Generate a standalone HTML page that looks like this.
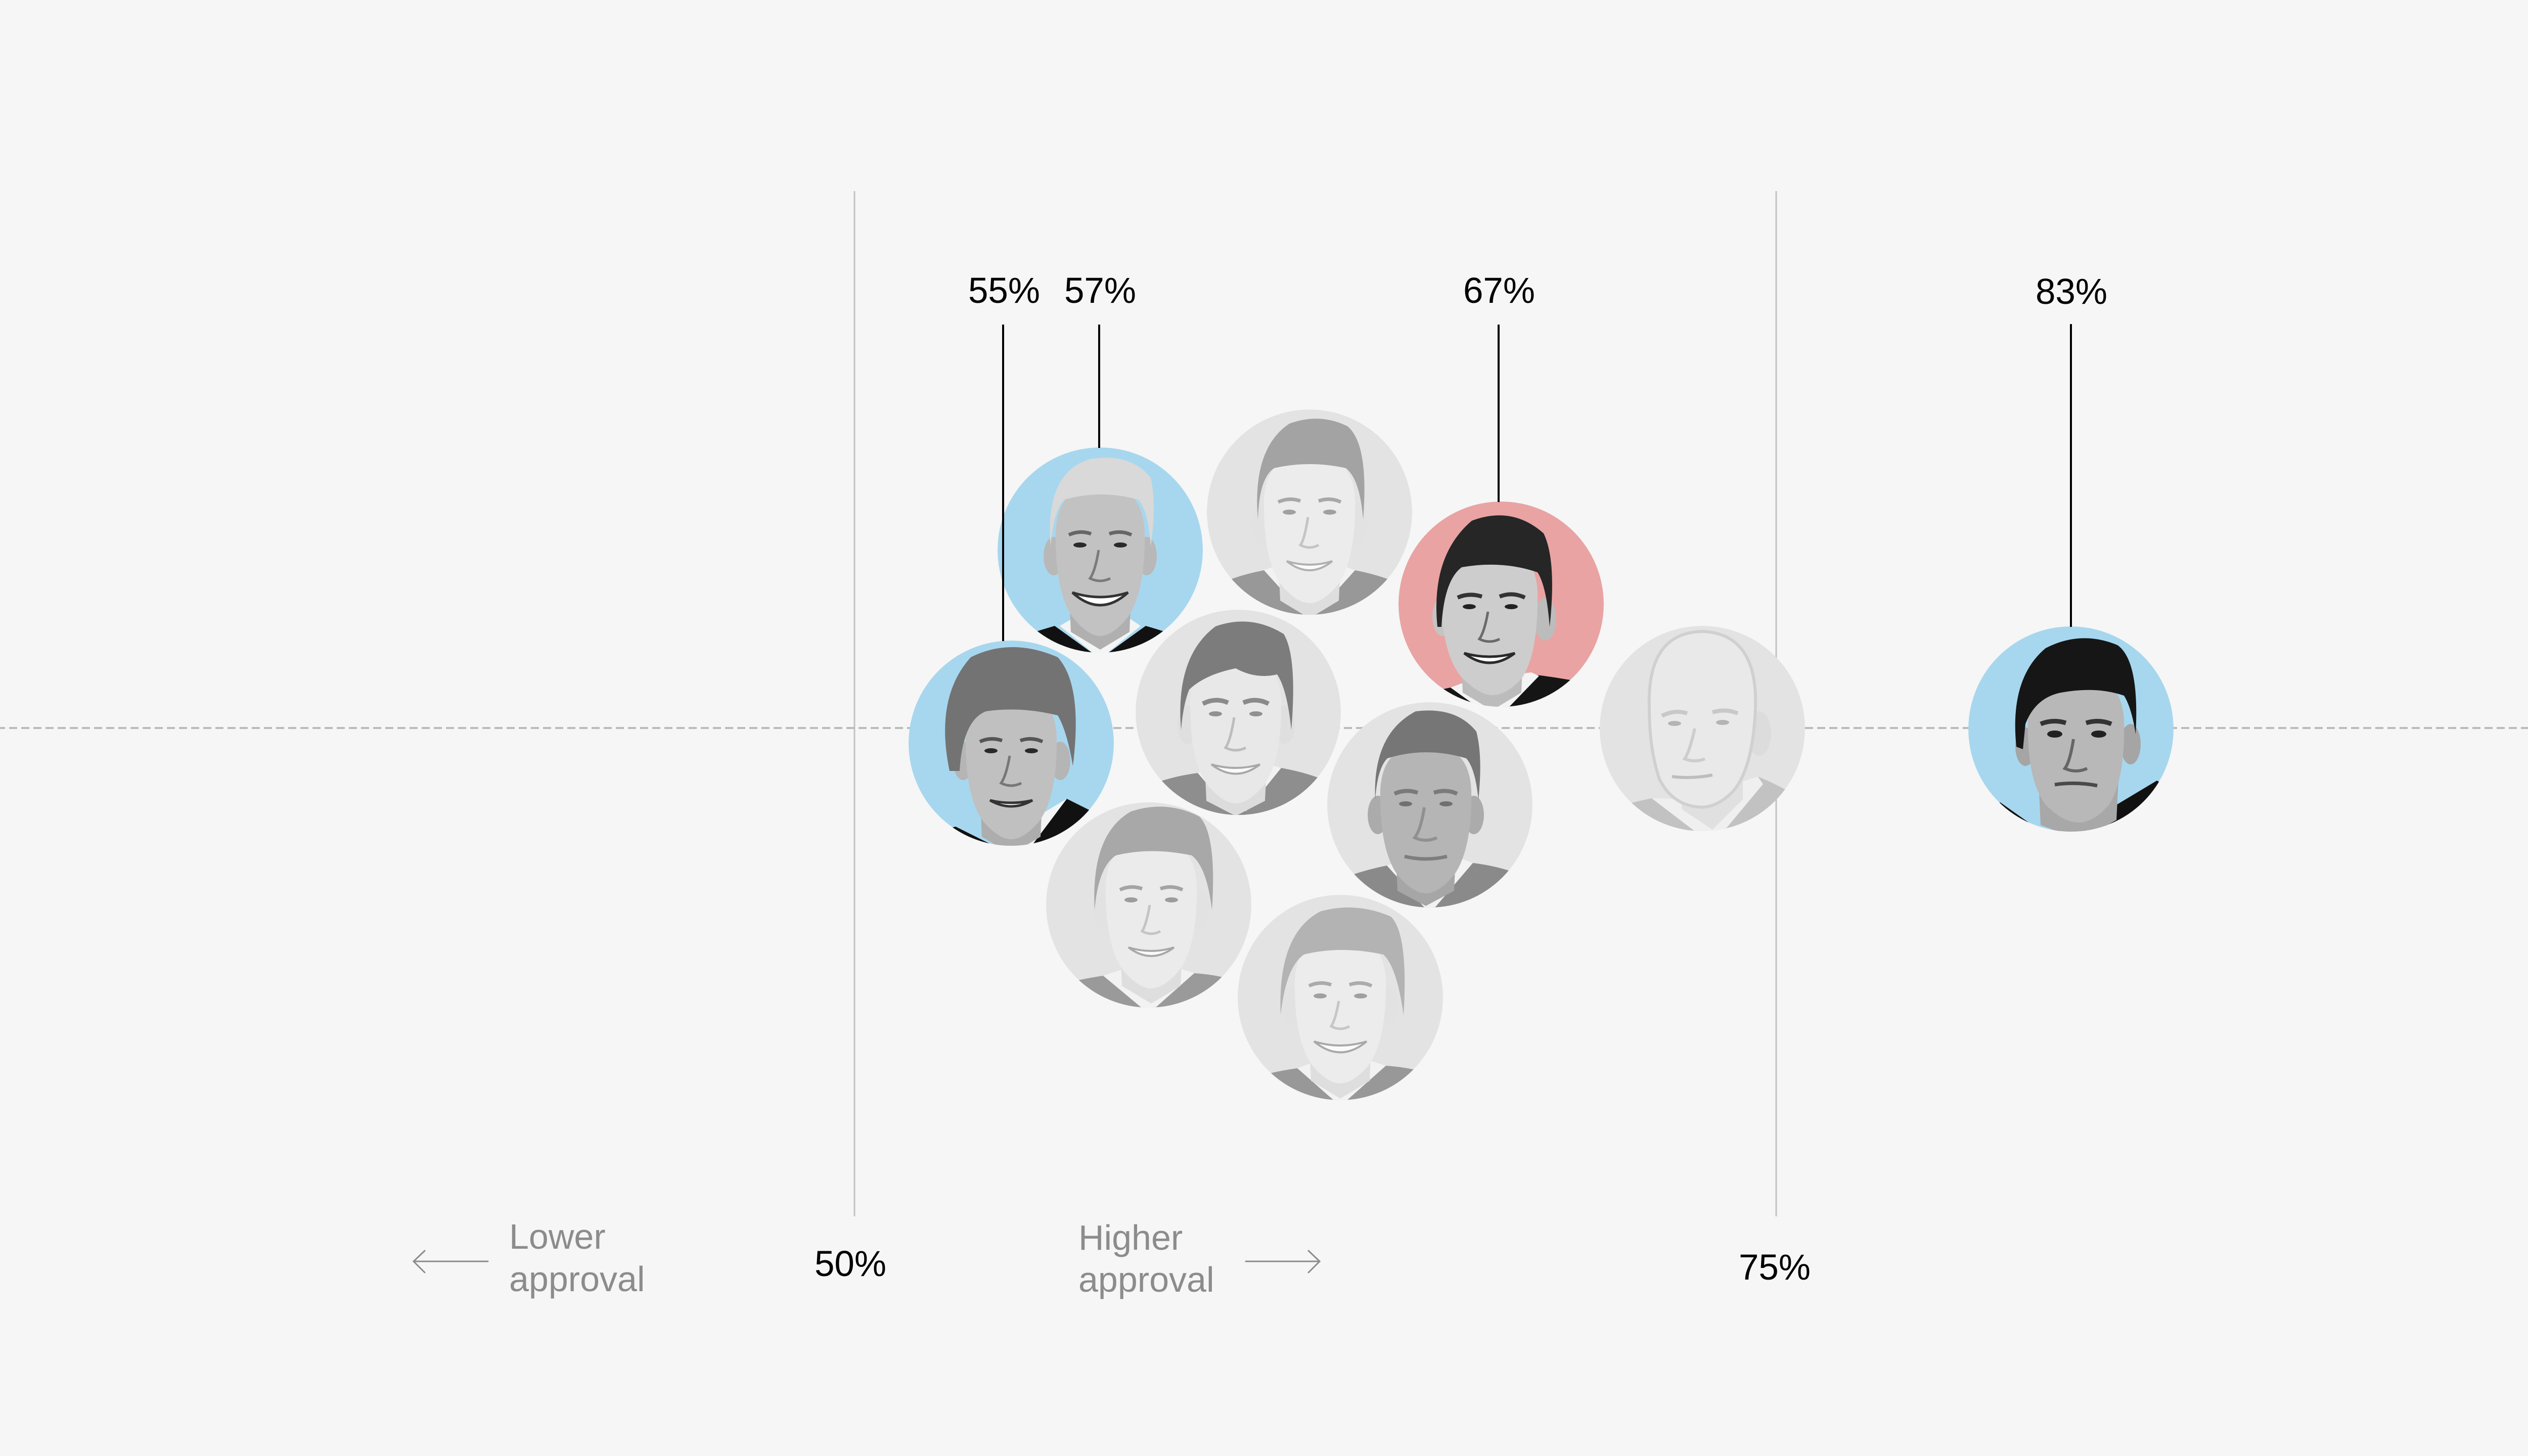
<!DOCTYPE html>
<html>
<head>
<meta charset="utf-8">
<style>
html,body{margin:0;padding:0;background:#f6f6f6;}
svg{display:block;}
text{font-family:"Liberation Sans",sans-serif;}
</style>
</head>
<body>
<svg width="5120" height="2880" viewBox="0 0 5120 2880" xmlns="http://www.w3.org/2000/svg">
<defs>
  <clipPath id="cc"><circle cx="0" cy="0" r="203"/></clipPath>
</defs>
<rect width="5120" height="2880" fill="#f6f6f6"/>

<!-- grid lines -->
<line x1="1690" y1="378" x2="1690" y2="2406" stroke="#c2c2c2" stroke-width="3"/>
<line x1="3513" y1="378" x2="3513" y2="2406" stroke="#c2c2c2" stroke-width="3"/>
<line x1="0" y1="1440" x2="5120" y2="1440" stroke="#bbbbbb" stroke-width="4" stroke-dasharray="16 8" stroke-dashoffset="6"/>

<!-- ===== Bush Jr (gray) ===== -->
<g transform="translate(2590,1013)" clip-path="url(#cc)">
  <circle r="203" fill="#e3e3e3"/>
  <path d="M-230,240 L-230,170 Q-170,130 -90,115 L0,200 L90,115 Q170,130 230,170 L230,240Z" fill="#989898"/>
  <path d="M-90,115 L-50,100 L50,100 L90,115 L0,215Z" fill="#f2f2f2"/>
  <g transform="translate(0,25)">
    <path d="M-62,60 L-58,150 L0,185 L58,150 L62,60Z" fill="#dedede"/>
    <ellipse cx="-95" cy="0" rx="20" ry="38" fill="#e2e2e2"/>
    <ellipse cx="95" cy="0" rx="20" ry="38" fill="#e2e2e2"/>
    <path d="M-90,-50 Q-92,70 -55,120 Q-25,155 0,155 Q25,155 55,120 Q92,70 90,-50 Q85,-140 0,-140 Q-85,-140 -90,-50Z" fill="#ececec"/>
    <path d="M-102,-10 Q-114,-150 -40,-200 Q20,-222 75,-195 Q118,-160 106,-10 Q100,-90 72,-112 Q0,-128 -70,-112 Q-100,-92 -102,-10Z" fill="#a3a3a3"/>
    <path d="M-62,-45 Q-40,-55 -18,-47 M18,-47 Q40,-55 62,-45" stroke="#a8a8a8" stroke-width="7" fill="none"/>
    <ellipse cx="-40" cy="-25" rx="13" ry="5" fill="#a0a0a0"/>
    <ellipse cx="40" cy="-25" rx="13" ry="5" fill="#a0a0a0"/>
    <path d="M-3,-15 Q-10,30 -18,40 Q0,50 18,40" stroke="#c4c4c4" stroke-width="5" fill="none"/>
    <path d="M-45,72 Q0,108 45,72 Q0,86 -45,72Z" fill="#fafafa" stroke="#b0b0b0" stroke-width="4"/>
  </g>
</g>

<!-- ===== Nixon (gray) ===== -->
<g transform="translate(2449,1409)" clip-path="url(#cc)">
  <circle r="203" fill="#e3e3e3"/>
  <path d="M-230,240 L-230,170 Q-160,130 -80,120 L0,200 L85,110 Q170,125 230,165 L230,240Z" fill="#8e8e8e"/>
  <path d="M-80,120 L-45,105 L50,100 L85,110 L0,215Z" fill="#f2f2f2"/>
  <path d="M-12,170 L12,170 L18,215 L-18,215Z" fill="#8a8a8a"/>
  <g transform="translate(-5,25)">
    <path d="M-62,60 L-58,150 L0,180 L58,150 L62,60Z" fill="#dcdcdc"/>
    <ellipse cx="-95" cy="0" rx="20" ry="38" fill="#dfdfdf"/>
    <ellipse cx="97" cy="0" rx="20" ry="38" fill="#dfdfdf"/>
    <path d="M-90,-50 Q-92,70 -55,120 Q-25,155 0,155 Q25,155 55,120 Q92,70 90,-50 Q85,-140 0,-140 Q-85,-140 -90,-50Z" fill="#e8e8e8"/>
    <path d="M-108,10 Q-120,-135 -40,-195 Q30,-220 95,-180 Q122,-135 110,10 Q102,-70 82,-100 Q40,-90 0,-112 Q-60,-100 -92,-70 Q-104,-40 -108,10Z" fill="#7c7c7c"/>
    <path d="M-65,-42 Q-40,-55 -15,-44 M15,-44 Q40,-55 65,-42" stroke="#8a8a8a" stroke-width="9" fill="none"/>
    <ellipse cx="-40" cy="-22" rx="13" ry="5" fill="#909090"/>
    <ellipse cx="40" cy="-22" rx="13" ry="5" fill="#909090"/>
    <path d="M-3,-15 Q-10,30 -20,45 Q0,55 20,45" stroke="#bcbcbc" stroke-width="5" fill="none"/>
    <path d="M-48,78 Q0,115 48,78 Q0,92 -48,78Z" fill="#fafafa" stroke="#a8a8a8" stroke-width="4"/>
  </g>
</g>

<!-- ===== Obama (gray) ===== -->
<g transform="translate(2828,1592)" clip-path="url(#cc)">
  <circle r="203" fill="#e3e3e3"/>
  <path d="M-230,240 L-230,170 Q-160,135 -85,120 L0,200 L85,115 Q170,125 230,165 L230,240Z" fill="#8a8a8a"/>
  <path d="M-85,120 L-45,105 L50,102 L85,115 L0,215Z" fill="#f2f2f2"/>
  <g transform="translate(-8,20)">
    <path d="M-60,60 L-56,150 L0,180 L56,150 L60,60Z" fill="#a6a6a6"/>
    <ellipse cx="-95" cy="0" rx="20" ry="38" fill="#ababab"/>
    <ellipse cx="95" cy="0" rx="20" ry="38" fill="#ababab"/>
    <path d="M-90,-50 Q-92,70 -55,120 Q-25,155 0,155 Q25,155 55,120 Q92,70 90,-50 Q85,-140 0,-140 Q-85,-140 -90,-50Z" fill="#b5b5b5"/>
    <path d="M-100,-30 Q-106,-160 -20,-205 Q60,-215 100,-165 Q113,-115 104,-30 Q98,-92 80,-112 Q0,-136 -76,-112 Q-96,-92 -100,-30Z" fill="#767676"/>
    <path d="M-62,-42 Q-40,-52 -16,-44 M16,-44 Q40,-52 62,-42" stroke="#7a7a7a" stroke-width="8" fill="none"/>
    <ellipse cx="-40" cy="-22" rx="13" ry="5" fill="#707070"/>
    <ellipse cx="40" cy="-22" rx="13" ry="5" fill="#707070"/>
    <path d="M-3,-15 Q-10,30 -22,45 Q0,55 22,45" stroke="#909090" stroke-width="6" fill="none"/>
    <path d="M-42,82 Q0,92 42,82" stroke="#7e7e7e" stroke-width="7" fill="none"/>
  </g>
</g>

<!-- ===== Bush Sr (gray) ===== -->
<g transform="translate(2272,1790)" clip-path="url(#cc)">
  <circle r="203" fill="#e3e3e3"/>
  <path d="M-230,240 L-230,175 Q-160,150 -90,140 L0,210 L90,135 Q170,140 230,175 L230,240Z" fill="#9a9a9a"/>
  <path d="M-90,140 L-45,125 L50,122 L90,135 L0,215Z" fill="#f2f2f2"/>
  <g transform="translate(5,10)">
    <path d="M-62,60 L-58,150 L0,185 L58,150 L62,60Z" fill="#dedede"/>
    <ellipse cx="-95" cy="0" rx="20" ry="38" fill="#e2e2e2"/>
    <ellipse cx="95" cy="0" rx="20" ry="38" fill="#e2e2e2"/>
    <path d="M-90,-50 Q-92,70 -55,120 Q-25,155 0,155 Q25,155 55,120 Q92,70 90,-50 Q85,-140 0,-140 Q-85,-140 -90,-50Z" fill="#ebebeb"/>
    <path d="M-112,0 Q-120,-150 -40,-195 Q30,-218 95,-185 Q130,-150 120,0 Q110,-85 80,-108 Q0,-125 -70,-108 Q-105,-85 -112,0Z" fill="#a8a8a8"/>
    <path d="M-62,-40 Q-40,-50 -18,-42 M18,-42 Q40,-50 62,-40" stroke="#a4a4a4" stroke-width="7" fill="none"/>
    <ellipse cx="-40" cy="-20" rx="13" ry="5" fill="#9c9c9c"/>
    <ellipse cx="40" cy="-20" rx="13" ry="5" fill="#9c9c9c"/>
    <path d="M-3,-10 Q-10,30 -18,42 Q0,52 18,42" stroke="#c4c4c4" stroke-width="5" fill="none"/>
    <path d="M-45,74 Q0,108 45,74 Q0,88 -45,74Z" fill="#fafafa" stroke="#a8a8a8" stroke-width="4"/>
  </g>
</g>

<!-- ===== Carter (gray) ===== -->
<g transform="translate(2651,1973)" clip-path="url(#cc)">
  <circle r="203" fill="#e3e3e3"/>
  <path d="M-230,240 L-230,180 Q-160,150 -85,140 L0,210 L90,135 Q170,140 230,175 L230,240Z" fill="#989898"/>
  <path d="M-85,140 L-45,125 L50,122 L90,135 L0,215Z" fill="#f2f2f2"/>
  <g transform="translate(0,15)">
    <path d="M-62,60 L-58,150 L0,185 L58,150 L62,60Z" fill="#dedede"/>
    <ellipse cx="-95" cy="0" rx="20" ry="38" fill="#e2e2e2"/>
    <ellipse cx="95" cy="0" rx="20" ry="38" fill="#e2e2e2"/>
    <path d="M-90,-50 Q-92,70 -55,120 Q-25,155 0,155 Q25,155 55,120 Q92,70 90,-50 Q85,-140 0,-140 Q-85,-140 -90,-50Z" fill="#ececec"/>
    <path d="M-118,20 Q-125,-140 -40,-185 Q30,-205 100,-175 Q135,-140 125,20 Q112,-75 85,-100 Q0,-118 -72,-100 Q-108,-75 -118,20Z" fill="#b3b3b3"/>
    <path d="M-62,-38 Q-40,-48 -18,-40 M18,-40 Q40,-48 62,-38" stroke="#ababab" stroke-width="7" fill="none"/>
    <ellipse cx="-40" cy="-18" rx="13" ry="5" fill="#a0a0a0"/>
    <ellipse cx="40" cy="-18" rx="13" ry="5" fill="#a0a0a0"/>
    <path d="M-3,-8 Q-10,30 -18,42 Q0,52 18,42" stroke="#c6c6c6" stroke-width="5" fill="none"/>
    <path d="M-52,72 Q0,115 52,72 Q0,88 -52,72Z" fill="#fafafa" stroke="#a8a8a8" stroke-width="4"/>
  </g>
</g>

<!-- ===== Eisenhower (gray) ===== -->
<g transform="translate(3367,1441)" clip-path="url(#cc)">
  <circle r="203" fill="#e3e3e3"/>
  <path d="M-230,240 L-230,175 Q-160,150 -100,138 L20,230 L110,95 Q170,120 230,160 L230,240Z" fill="#c2c2c2"/>
  <path d="M-100,138 L-30,140 L110,95 L120,110 L20,230Z" fill="#efefef"/>
  <g transform="translate(0,0)">
    <path d="M-50,80 L-40,160 L20,200 L80,140 L80,60Z" fill="#e0e0e0"/>
    <ellipse cx="112" cy="10" rx="24" ry="44" fill="#dcdcdc"/>
    <path d="M-105,-40 Q-110,-190 0,-192 Q110,-188 105,-40 Q100,80 60,125 Q25,160 -10,155 Q-60,150 -85,100 Q-105,40 -105,-40Z" fill="#e9e9e9" stroke="#d0d0d0" stroke-width="6"/>
    <path d="M-80,-25 Q-55,-38 -30,-30 M20,-32 Q45,-40 70,-30" stroke="#c8c8c8" stroke-width="8" fill="none"/>
    <ellipse cx="-55" cy="-10" rx="13" ry="5" fill="#b4b4b4"/>
    <ellipse cx="40" cy="-12" rx="13" ry="5" fill="#b4b4b4"/>
    <path d="M-15,0 Q-25,45 -35,60 Q-15,68 5,60" stroke="#cdcdcd" stroke-width="6" fill="none"/>
    <path d="M-60,95 Q-20,100 20,92" stroke="#bdbdbd" stroke-width="6" fill="none"/>
  </g>
</g>

<!-- ===== Biden (blue) ===== -->
<g transform="translate(2176,1088)" clip-path="url(#cc)">
  <circle r="203" fill="#a7d7ee"/>
  <path d="M-230,240 L-230,200 Q-160,170 -90,150 L0,215 L90,150 Q160,170 230,200 L230,240Z" fill="#111111"/>
  <path d="M-80,150 L-45,130 L50,130 L80,150 L0,215Z" fill="#f4f4f4"/>
  <g transform="translate(0,12)">
    <path d="M-62,60 L-58,150 L0,185 L58,150 L62,60Z" fill="#b0b0b0"/>
    <ellipse cx="-92" cy="0" rx="20" ry="38" fill="#b8b8b8"/>
    <ellipse cx="92" cy="0" rx="20" ry="38" fill="#b8b8b8"/>
    <path d="M-88,-50 Q-90,70 -55,120 Q-25,158 0,158 Q25,158 55,120 Q90,70 88,-50 Q83,-140 0,-140 Q-83,-140 -88,-50Z" fill="#c2c2c2"/>
    <path d="M-98,-20 Q-110,-165 -20,-192 Q60,-205 100,-155 Q112,-100 100,-20 Q95,-92 75,-112 Q0,-132 -70,-112 Q-92,-92 -98,-20Z" fill="#d9d9d9"/>
    <path d="M-62,-42 Q-40,-52 -18,-44 M18,-44 Q40,-52 62,-42" stroke="#666" stroke-width="7" fill="none"/>
    <ellipse cx="-40" cy="-22" rx="13" ry="5" fill="#2a2a2a"/>
    <ellipse cx="40" cy="-22" rx="13" ry="5" fill="#2a2a2a"/>
    <path d="M-3,-12 Q-10,30 -20,44 Q0,54 20,44" stroke="#7a7a7a" stroke-width="5" fill="none"/>
    <path d="M-55,72 Q0,122 55,72 Q0,90 -55,72Z" fill="#ffffff" stroke="#333" stroke-width="5"/>
  </g>
</g>

<!-- ===== Clinton (blue) ===== -->
<g transform="translate(2000,1470)" clip-path="url(#cc)">
  <circle r="203" fill="#a7d7ee"/>
  <path d="M-230,240 L-230,205 Q-170,180 -110,165 L20,230 L110,110 Q170,140 230,170 L230,240Z" fill="#111111"/>
  <path d="M-60,160 L60,140 L110,110 L20,230Z" fill="#f4f4f4"/>
  <g transform="translate(0,35)">
    <path d="M-62,60 L-58,150 L0,185 L58,150 L62,60Z" fill="#adadad"/>
    <ellipse cx="-95" cy="0" rx="20" ry="38" fill="#b5b5b5"/>
    <ellipse cx="97" cy="0" rx="20" ry="38" fill="#b5b5b5"/>
    <path d="M-90,-50 Q-92,70 -55,120 Q-25,155 0,155 Q25,155 55,120 Q92,70 90,-50 Q85,-140 0,-140 Q-85,-140 -90,-50Z" fill="#c0c0c0"/>
    <path d="M-122,20 Q-152,-125 -80,-205 Q0,-245 92,-205 Q142,-150 122,10 Q110,-60 92,-90 Q20,-108 -50,-98 Q-96,-80 -102,20Z" fill="#737373"/>
    <path d="M-62,-38 Q-40,-48 -18,-40 M18,-40 Q40,-48 62,-38" stroke="#555" stroke-width="7" fill="none"/>
    <ellipse cx="-40" cy="-20" rx="13" ry="5" fill="#2a2a2a"/>
    <ellipse cx="40" cy="-20" rx="13" ry="5" fill="#2a2a2a"/>
    <path d="M-3,-10 Q-10,30 -20,44 Q0,54 20,44" stroke="#777" stroke-width="5" fill="none"/>
    <path d="M-42,78 Q0,102 42,78 Q0,88 -42,78Z" fill="#ffffff" stroke="#333" stroke-width="5"/>
  </g>
</g>

<!-- ===== Reagan (red) ===== -->
<g transform="translate(2969,1195)" clip-path="url(#cc)">
  <circle r="203" fill="#e9a3a3"/>
  <path d="M-230,240 L-230,200 Q-150,175 -100,165 L-10,230 L70,140 Q150,150 230,170 L230,240Z" fill="#151515"/>
  <path d="M-100,165 L-60,150 L60,135 L75,142 L-10,230Z" fill="#f4f4f4"/>
  <g transform="translate(-18,25)">
    <path d="M-62,60 L-58,150 L0,185 L58,150 L62,60Z" fill="#bcbcbc"/>
    <ellipse cx="-98" cy="0" rx="20" ry="38" fill="#c4c4c4"/>
    <ellipse cx="105" cy="5" rx="22" ry="42" fill="#bcbcbc"/>
    <path d="M-100,-50 Q-102,70 -60,120 Q-25,155 0,155 Q30,155 60,120 Q92,70 90,-50 Q85,-140 0,-140 Q-90,-140 -100,-50Z" fill="#cdcdcd"/>
    <path d="M-108,20 Q-122,-120 -40,-190 Q40,-220 102,-165 Q128,-112 114,20 Q108,-60 90,-88 Q20,-112 -60,-98 Q-95,-72 -100,20Z" fill="#262626"/>
    <path d="M-68,-38 Q-45,-48 -20,-40 M15,-40 Q40,-50 65,-38" stroke="#333" stroke-width="8" fill="none"/>
    <ellipse cx="-45" cy="-20" rx="13" ry="5" fill="#222"/>
    <ellipse cx="38" cy="-20" rx="13" ry="5" fill="#222"/>
    <path d="M-8,-10 Q-15,30 -25,44 Q-5,54 15,44" stroke="#6a6a6a" stroke-width="5" fill="none"/>
    <path d="M-55,72 Q-5,110 45,72 Q-5,86 -55,72Z" fill="#ffffff" stroke="#2a2a2a" stroke-width="5"/>
  </g>
</g>

<!-- ===== Kennedy (blue) ===== -->
<g transform="translate(4096,1442)" clip-path="url(#cc)">
  <circle r="203" fill="#a7d7ee"/>
  <path d="M-230,240 L-230,185 Q-180,160 -140,145 L-20,230 L90,150 L170,102 Q210,125 230,150 L230,240Z" fill="#111111"/>
  <path d="M-20,165 L70,160 L90,150 L40,230 L-20,230Z" fill="#f4f4f4"/>
  <g transform="translate(10,30)">
    <path d="M-75,50 L-70,160 L10,190 L80,150 L85,50Z" fill="#a8a8a8"/>
    <ellipse cx="-100" cy="5" rx="20" ry="38" fill="#a5a5a5"/>
    <ellipse cx="108" cy="0" rx="20" ry="40" fill="#a5a5a5"/>
    <path d="M-95,-50 Q-98,70 -60,120 Q-25,155 5,155 Q35,155 65,120 Q98,70 95,-50 Q88,-140 0,-140 Q-88,-140 -95,-50Z" fill="#b8b8b8"/>
    <path d="M-118,5 Q-132,-130 -60,-190 Q10,-226 82,-196 Q126,-165 118,-20 Q110,-72 95,-96 Q40,-115 -30,-102 Q-80,-92 -100,-40 L-105,10Z" fill="#161616"/>
    <path d="M-70,-40 Q-45,-50 -20,-42 M20,-42 Q45,-50 70,-40" stroke="#333" stroke-width="9" fill="none"/>
    <ellipse cx="-42" cy="-20" rx="15" ry="7" fill="#222"/>
    <ellipse cx="45" cy="-20" rx="15" ry="7" fill="#222"/>
    <path d="M-5,-10 Q-12,35 -22,48 Q0,58 22,48" stroke="#666" stroke-width="6" fill="none"/>
    <path d="M-42,80 Q0,74 42,82" stroke="#4a4a4a" stroke-width="7" fill="none"/>
  </g>
</g>

<!-- callout lines -->
<line x1="1984" y1="642" x2="1984" y2="1268" stroke="#000" stroke-width="4"/>
<line x1="2174" y1="642" x2="2174" y2="886" stroke="#000" stroke-width="4"/>
<line x1="2964" y1="642" x2="2964" y2="993" stroke="#000" stroke-width="4"/>
<line x1="4096" y1="641" x2="4096" y2="1240" stroke="#000" stroke-width="4"/>

<!-- value labels -->
<g font-size="71" fill="#000" text-anchor="middle">
  <text x="1986" y="599">55%</text>
  <text x="2176" y="599">57%</text>
  <text x="2965" y="599">67%</text>
  <text x="4097" y="601">83%</text>
  <text x="1682" y="2524">50%</text>
  <text x="3510" y="2531">75%</text>
</g>

<!-- direction labels -->
<g font-size="70" fill="#8c8c8c">
  <text x="1007" y="2470">Lower</text>
  <text x="1007" y="2554">approval</text>
  <text x="2133" y="2472">Higher</text>
  <text x="2133" y="2555">approval</text>
</g>
<g stroke="#8c8c8c" stroke-width="3" fill="none" stroke-linecap="round">
  <line x1="818" y1="2495" x2="965" y2="2495"/>
  <polyline points="840,2474 818,2495 840,2517"/>
  <line x1="2464" y1="2495" x2="2610" y2="2495"/>
  <polyline points="2588,2474 2610,2495 2588,2517"/>
</g>
</svg>
</body>
</html>
